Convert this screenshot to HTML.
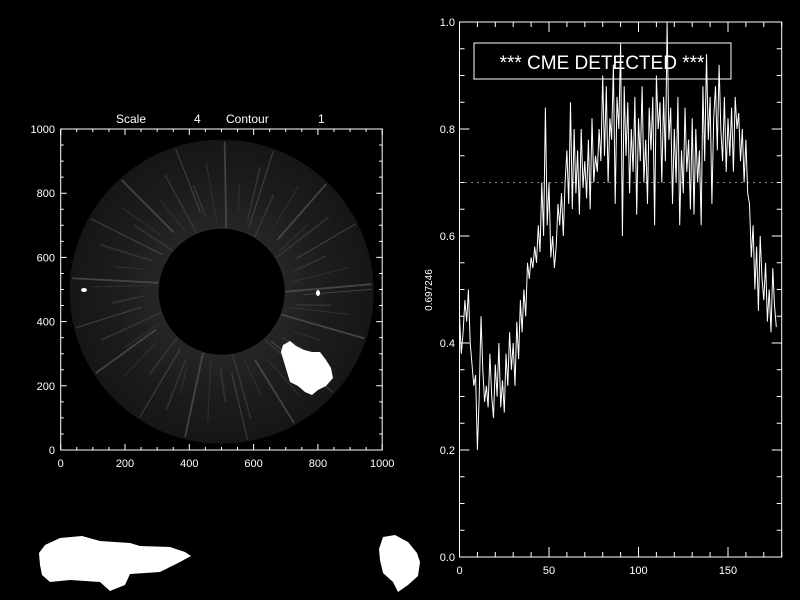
<!DOCTYPE html>
<html><head><meta charset="utf-8"><style>
html,body{margin:0;padding:0;background:#000;width:800px;height:600px;overflow:hidden}
svg{display:block}
text{font-family:"Liberation Sans",sans-serif;fill:#fff}
</style></head><body>
<svg id="s" width="800" height="600" viewBox="0 0 800 600">
<defs>
<radialGradient id="ann" cx="221.7" cy="291.7" r="152" gradientUnits="userSpaceOnUse">
<stop offset="0.41" stop-color="#262626"/><stop offset="0.7" stop-color="#1c1c1c"/><stop offset="1" stop-color="#161616"/>
</radialGradient>
</defs>
<rect width="800" height="600" fill="#000"/>
<g id="left">
<circle cx="221.7" cy="291.7" r="152" fill="url(#ann)"/>
<g id="streaks"></g>
<circle cx="221.7" cy="291.7" r="63" fill="#000"/>
<path d="M283,345 L290,341 L296,346 L304,350 L312,352 L320,352 L326,360 L331,368 L333,378 L326,386 L318,390 L312,395 L305,392 L298,386 L290,382 L287,372 L284,362 L281,352 Z" fill="#fff"/>
<ellipse cx="84" cy="290" rx="3" ry="2" fill="#fff"/>
<ellipse cx="318" cy="293" rx="2" ry="3" fill="#fff"/>
<rect x="60.7" y="129" width="321.5" height="321" fill="none" stroke="#fff"/>
<text x="116" y="123" font-size="12">Scale</text>
<text x="194" y="123" font-size="12">4</text>
<text x="226" y="123" font-size="12">Contour</text>
<text x="318" y="123" font-size="12">1</text>
</g>
<path d="M39,553 L45,545 L60,538 L82,536 L100,541 L130,543 L140,546 L170,547 L185,552 L191,556 L180,562 L160,572 L130,574 L125,585 L110,591 L100,582 L70,580 L50,582 L42,575 L40,565 Z" fill="#fff"/>
<path d="M383,537 L395,535 L408,542 L417,553 L420,562 L418,576 L408,585 L398,592 L393,582 L383,573 L380,560 L379,549 Z" fill="#fff"/>
<g id="right"></g>
</svg>
<script>
const xVals=[];
const series=[0.45,0.38,0.42,0.48,0.44,0.50,0.40,0.36,0.32,0.34,
0.20,0.30,0.45,0.35,0.29,0.32,0.28,0.38,0.30,0.26,
0.36,0.30,0.40,0.28,0.33,0.27,0.38,0.32,0.42,0.35,
0.40,0.32,0.44,0.37,0.48,0.42,0.50,0.45,0.55,0.52,
0.56,0.54,0.58,0.55,0.62,0.57,0.70,0.60,0.84,0.62,
0.70,0.56,0.60,0.54,0.58,0.66,0.62,0.68,0.60,0.70,
0.76,0.66,0.85,0.65,0.80,0.68,0.76,0.64,0.80,0.69,
0.74,0.67,0.78,0.65,0.82,0.70,0.75,0.72,0.80,0.74,
0.90,0.75,0.88,0.70,0.82,0.78,0.92,0.66,0.86,0.80,
0.96,0.60,0.88,0.75,0.85,0.68,0.80,0.72,0.86,0.64,
0.82,0.74,0.88,0.70,0.78,0.66,0.84,0.76,0.86,0.62,
0.90,0.80,0.85,0.70,0.86,0.74,1.00,0.78,0.84,0.66,
0.80,0.70,0.86,0.62,0.76,0.68,0.84,0.72,0.78,0.65,
0.82,0.64,0.80,0.70,0.76,0.62,0.88,0.74,0.94,0.78,
0.86,0.66,0.82,0.88,0.76,0.92,0.80,0.74,0.86,0.72,
0.82,0.75,0.84,0.72,0.86,0.80,0.83,0.74,0.80,0.70,
0.78,0.68,0.66,0.56,0.62,0.50,0.58,0.46,0.60,0.52,
0.48,0.55,0.44,0.50,0.42,0.54,0.47,0.43];
for(let i=0;i<series.length;i++)xVals.push(i);
const xTicks=[0,50,100,150];
const yTicks=[0.0,0.2,0.4,0.6,0.8,1.0];
const threshold=[0.7];
const imgTicks=[0,200,400,600,800,1000];

const NS="http://www.w3.org/2000/svg";
function mk(tag,attrs,parent){const e=document.createElementNS(NS,tag);for(const k in attrs)e.setAttribute(k,attrs[k]);parent.appendChild(e);return e;}
const L=document.getElementById('left');
const lx=v=>60.7+v/1000*321.5, ly=v=>450-v/1000*321;
let tk="";
for(let v=0;v<=1000;v+=50){const major=v%200===0;const len=major?6:3;
tk+=`M${lx(v)},450v${-len}M${lx(v)},129v${len}M60.7,${ly(v)}h${len}M382.2,${ly(v)}h${-len}`;}
const lt=mk('path',{d:tk,stroke:'#fff','stroke-width':1,fill:'none'},L);


imgTicks.forEach(v=>{
const t=mk('text',{x:lx(v),y:467,'font-size':11,'text-anchor':'middle'},L);t.textContent=v;


const u=mk('text',{x:55,y:ly(v)+4,'font-size':11,'text-anchor':'end'},L);u.textContent=v;


});
const S=document.getElementById('streaks');
const angs=[];for(let a=0;a<360;a+=7)angs.push(a+((a*13)%5));
angs.forEach((a,i)=>{const r=a*Math.PI/180;const r1=64+(i%4)*6,r2=150-(i%3)*20;
const p=mk('line',{x1:221.7+r1*Math.cos(r),y1:291.7-r1*Math.sin(r),x2:221.7+r2*Math.cos(r+0.05),y2:291.7-r2*Math.sin(r+0.05),stroke:i%3===0?'#555':'#3a3a3a','stroke-width':i%2?1:1.8,'stroke-opacity':0.7},S);


});
const R=document.getElementById('right');
const X0=459.5,X1=781.7,Y0=557,Y1=22;
const sx=v=>X0+v/180*(X1-X0), sy=v=>Y0-v*(Y0-Y1);
let rt="";
for(let v=0;v<=180;v+=10){const len=v%50===0?10:5;rt+=`M${sx(v)},${Y0}v${-len}M${sx(v)},${Y1}v${len}`;}
for(let k=0;k<=20;k++){const v=k*0.05;const len=k%4===0?10:5;rt+=`M${X0},${sy(v)}h${len}M${X1},${sy(v)}h${-len}`;}
const fr=mk('rect',{x:X0,y:Y1,width:X1-X0,height:Y0-Y1,fill:'none',stroke:'#fff'},R);


const rtp=mk('path',{d:rt,stroke:'#fff',fill:'none'},R);


xTicks.forEach(v=>{const t=mk('text',{x:sx(v),y:574,'font-size':11,'text-anchor':'middle'},R);t.textContent=v;

});
yTicks.forEach(v=>{const t=mk('text',{x:455,y:sy(v)+4,'font-size':11,'text-anchor':'end'},R);t.textContent=v.toFixed(1);

});
const yt=mk('text',{x:0,y:0,'font-size':10,'text-anchor':'middle',transform:'translate(432,290) rotate(-90)'},R);yt.textContent='0.697246';


const th=mk('line',{x1:X0,x2:X1,y1:sy(threshold[0]),y2:sy(threshold[0]),stroke:'#fff','stroke-dasharray':'1 5'},R);


const bx=mk('rect',{x:474,y:43,width:257,height:36,fill:'none',stroke:'#fff'},R);


const at=mk('text',{x:602,y:69,'font-size':19,'text-anchor':'middle','font-weight':'normal'},R);at.textContent='*** CME DETECTED ***';


let d="";series.forEach((v,i)=>{d+=(i?"L":"M")+sx(xVals[i]).toFixed(1)+","+sy(v).toFixed(1);});
const ln=mk('path',{d:d,stroke:'#fff',fill:'none','stroke-width':1},R);


</script>
</body></html>
